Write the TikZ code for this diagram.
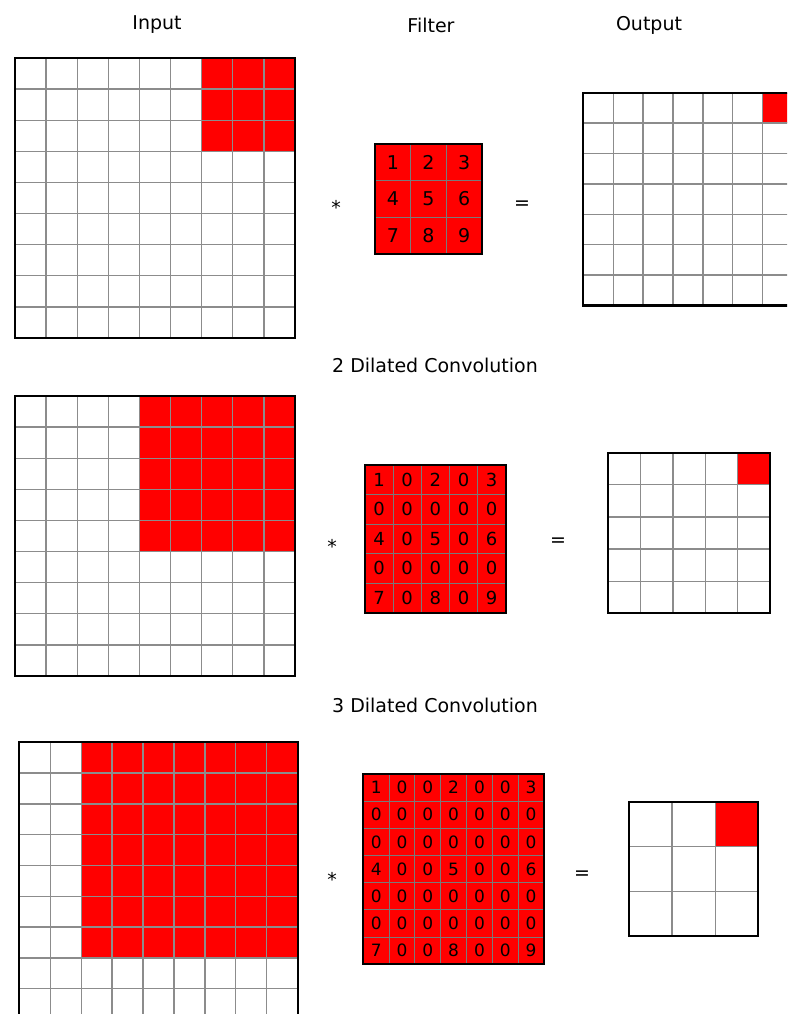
\documentclass[tikz,border=0pt]{standalone}
\usepackage{fontspec}
\setmainfont{DejaVu Sans}
\definecolor{cellred}{HTML}{FF0000}
\definecolor{gridgray}{HTML}{8C8C8C}
\definecolor{fgray}{HTML}{7A7A7A}
\newcommand{\cellgrid}[7]{%
  \pgfmathsetmacro\gcw{(#3-#1)/#5}%
  \pgfmathsetmacro\gch{(#4-#2)/#6}%
  \pgfmathtruncatemacro\gnc{#5-1}%
  \pgfmathtruncatemacro\gnr{#6-1}%
  \foreach \gi in {1,...,\gnc}{\draw[#7] ({#1+\gi*\gcw},#2) -- ({#1+\gi*\gcw},#4);}%
  \foreach \gj in {1,...,\gnr}{\draw[#7] (#1,{#2+\gj*\gch}) -- (#3,{#2+\gj*\gch});}%
  \draw[gborder] (#1,#2) rectangle (#3,#4);%
}
\begin{document}
\begin{tikzpicture}[x=1pt,y=-1pt,
  gline/.style={draw=gridgray,line width=1.3pt},
  fline/.style={draw=fgray,line width=1pt},
  gborder/.style={draw=black,line width=2.2pt},
  lbl/.style={font=\fontsize{19}{22}\selectfont, inner sep=0pt},
  opsym/.style={font=\fontsize{19}{22}\selectfont, inner sep=0pt, anchor=base},
  redfill/.style={fill=cellred}]
\useasboundingbox (0,0) rectangle (787,1014);
\clip (0,0) rectangle (787,1014);
\fill[white] (0,0) rectangle (787,1014);

% headings
\node[lbl] (hin) at (157,25) {Input};
\node[lbl] (hfi) at (431,25) {Filter};
\node[lbl] (hout) at (649,25) {Output};
\node[lbl] (h2) at (435,365) {2 Dilated Convolution};
\node[lbl] (h3) at (435,705) {3 Dilated Convolution};

% ===== Row 1 =====
\fill[redfill] (201.7,58) rectangle (295,151.3);
\cellgrid{15}{58}{295}{338}{9}{9}{gline}
\fill[redfill] (375,144) rectangle (482,254);
\cellgrid{375}{144}{482}{254}{3}{3}{fline}
\foreach \row [count=\r] in {{1,2,3},{4,5,6},{7,8,9}}{
  \foreach \v [count=\c] in \row {
    \node[lbl] (fa-\r-\c) at ({375+(\c-0.5)*35.667},{144+(\r-0.5)*36.667}) {\v};
  }
}
\fill[redfill] (762.7,92.7) rectangle (792.6,123.1);
\cellgrid{583.3}{92.7}{792.6}{305.5}{7}{7}{gline}
\node[opsym] (s1) at (336,214) {*};
\node[opsym] (e1) at (522,209) {=};

% ===== Row 2 =====
\fill[redfill] (139.4,396) rectangle (295,551.6);
\cellgrid{15}{396}{295}{676}{9}{9}{gline}
\fill[redfill] (365,465) rectangle (505.7,612.7);
\cellgrid{365}{465}{505.7}{612.7}{5}{5}{fline}
\foreach \row [count=\r] in {{1,0,2,0,3},{0,0,0,0,0},{4,0,5,0,6},{0,0,0,0,0},{7,0,8,0,9}}{
  \foreach \v [count=\c] in \row {
    \node[lbl,font=\fontsize{18}{20}\selectfont] (fb-\r-\c) at ({365+(\c-0.5)*28.14},{465+(\r-0.5)*29.54}) {\v};
  }
}
\fill[redfill] (737.7,452.7) rectangle (770,484.8);
\cellgrid{608.3}{452.7}{770}{613.3}{5}{5}{gline}
\node[opsym] (s2) at (332,553) {*};
\node[opsym] (e2) at (558,546) {=};

% ===== Row 3 =====
\fill[redfill] (81.2,742.3) rectangle (297.7,957.9);
\cellgrid{19.3}{742.3}{297.7}{1019.5}{9}{9}{gline}
\fill[redfill] (363.3,774) rectangle (544,964.3);
\cellgrid{363.3}{774}{544}{964.3}{7}{7}{fline}
\foreach \row [count=\r] in {{1,0,0,2,0,0,3},{0,0,0,0,0,0,0},{0,0,0,0,0,0,0},{4,0,0,5,0,0,6},{0,0,0,0,0,0,0},{0,0,0,0,0,0,0},{7,0,0,8,0,0,9}}{
  \foreach \v [count=\c] in \row {
    \node[lbl,font=\fontsize{17}{19}\selectfont] (fc-\r-\c) at ({363.3+(\c-0.5)*25.81},{774+(\r-0.5)*27.19}) {\v};
  }
}
\fill[redfill] (715.2,802.3) rectangle (758.3,846.8);
\cellgrid{629}{802.3}{758.3}{935.7}{3}{3}{gline}
\node[opsym] (s3) at (332,886) {*};
\node[opsym] (e3) at (582,879) {=};
\end{tikzpicture}
\end{document}
